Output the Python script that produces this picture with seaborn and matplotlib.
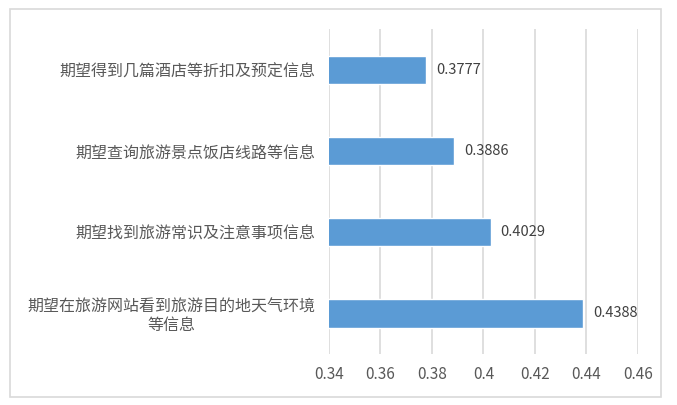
import pandas as pd
import matplotlib.pyplot as plt
import seaborn as sns
from matplotlib.patches import Rectangle

# 数据
categories = [
    "期望得到几篇酒店等折扣及预定信息",
    "期望查询旅游景点饭店线路等信息",
    "期望找到旅游常识及注意事项信息",
    "期望在旅游网站看到旅游目的地天气环境\n等信息",
]
values = [0.3777, 0.3886, 0.4029, 0.4388]
x_ticks = [0.34, 0.36, 0.38, 0.4, 0.42, 0.44, 0.46]
x_tick_labels = ["0.34", "0.36", "0.38", "0.4", "0.42", "0.44", "0.46"]

df = pd.DataFrame({"类别": categories, "值": values})

sns.set_style("white")
plt.rcParams['font.family'] = ['Noto Sans CJK SC', 'DejaVu Sans']

fig = plt.figure(figsize=(6.77, 4.05), dpi=100)
ax = fig.add_axes([0.486, 0.126, 0.456, 0.802])

sns.barplot(data=df, x="值", y="类别", color="#5B9BD5", saturation=1,
            width=0.35, ax=ax)

ax.set_xlim(0.34, 0.46)
ax.set_xticks(x_ticks)
ax.set_xticklabels(x_tick_labels, fontsize=11, color="#595959")
ax.tick_params(axis="x", length=0, pad=9)
ax.tick_params(axis="y", length=0, pad=10)
for lab in ax.get_yticklabels():
    lab.set_fontsize(11.5)
    lab.set_color("#595959")
    lab.set_multialignment("center")
    lab.set_linespacing(1.1)

ax.set_xlabel("")
ax.set_ylabel("")
ax.xaxis.grid(True, color="#d9d9d9", linewidth=1.2)
ax.set_axisbelow(True)
for s in ax.spines.values():
    s.set_visible(False)

# 数值标签
for i, v in enumerate(values):
    ax.text(v + 0.0038, i, f"{v:.4f}", va="center", ha="left",
            fontsize=10.5, color="#404040")

# 外框
fig.patches.append(Rectangle((10 / 677, 1 - 397 / 405), 651 / 677, 388 / 405,
                             transform=fig.transFigure, fill=False,
                             edgecolor="#d9d9d9", linewidth=1.2))

fig.savefig("out.png", dpi=100)
